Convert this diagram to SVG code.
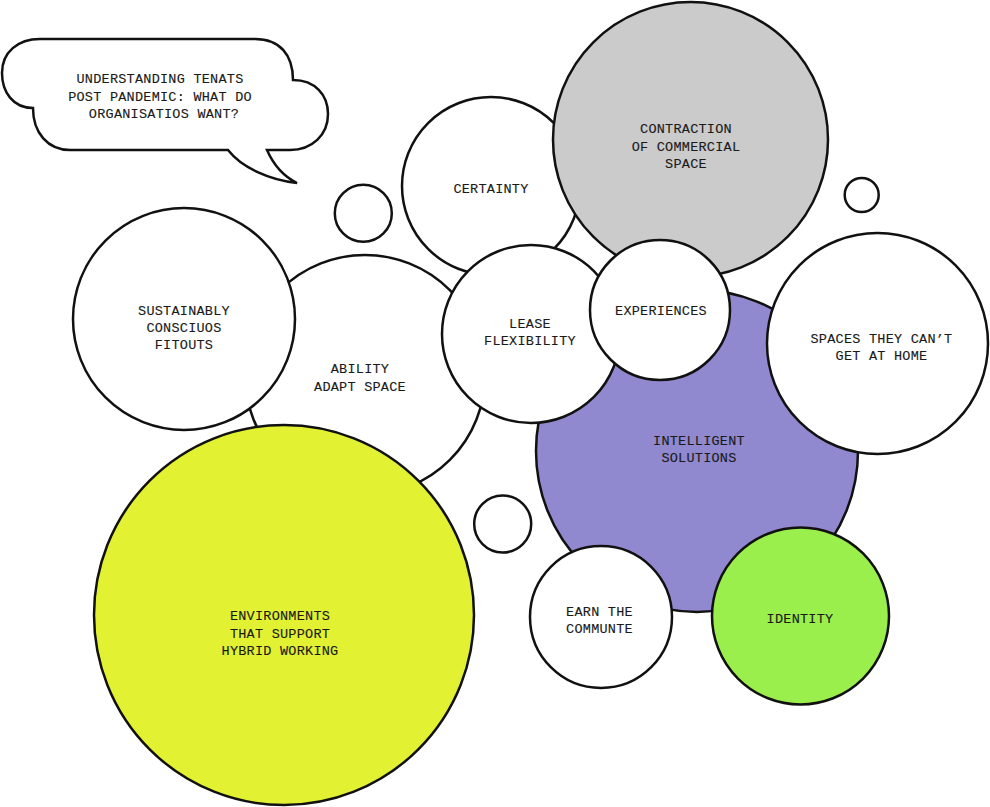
<svg xmlns="http://www.w3.org/2000/svg" width="990" height="807" viewBox="0 0 990 807">
<style>
.c{stroke:#111;stroke-width:2.5;}
.w{fill:#fff;}
.t{font-family:"Liberation Mono","DejaVu Sans Mono",monospace;font-size:13.5px;fill:#1a1a1a;stroke:#1a1a1a;stroke-width:0.12px;text-anchor:middle;letter-spacing:0.25px;}
</style>
<rect width="990" height="807" fill="#fff"/>
<g id="bubble">
<path class="c w" d="M40,39 L255,39 C280,39 293,55 293,80 C315,80 328,95 328,114 C328,135 312,150 290,150 L267,150 C274,166 285,177 297,183 C270,180 242,168 228,150 L70,150 C48,150 33,133 33,108 C13,108 2,92 2,73 C2,52 18,39 40,39 Z"/>
<text class="t"><tspan x="160" y="83">UNDERSTANDING TENATS</tspan><tspan x="160" y="100.5">POST PANDEMIC: WHAT DO</tspan><tspan x="164" y="118">ORGANISATIOS WANT?</tspan></text>
</g>
<g id="certainty">
<circle class="c w" cx="491" cy="186" r="89"/>
<text class="t" x="491" y="193">CERTAINTY</text>
</g>
<g id="contraction">
<circle class="c" fill="#cbcbcb" cx="690.5" cy="139.5" r="137.5"/>
<text class="t"><tspan x="686" y="133">CONTRACTION</tspan><tspan x="686" y="150.5">OF COMMERCIAL</tspan><tspan x="686" y="167.5">SPACE</tspan></text>
</g>
<g id="ability">
<circle class="c w" cx="365" cy="375" r="120"/>
<text class="t"><tspan x="360" y="373">ABILITY</tspan><tspan x="360" y="390.5">ADAPT SPACE</tspan></text>
</g>
<g id="sustainably">
<circle class="c w" cx="184" cy="319" r="111"/>
<text class="t"><tspan x="184" y="314.5">SUSTAINABLY</tspan><tspan x="184" y="332">CONSCIUOS</tspan><tspan x="184" y="349">FITOUTS</tspan></text>
</g>
<g id="environments">
<circle class="c" fill="#e2f232" cx="284" cy="615" r="190"/>
<text class="t"><tspan x="280" y="620">ENVIRONMENTS</tspan><tspan x="280" y="637.5">THAT SUPPORT</tspan><tspan x="280" y="655">HYBRID WORKING</tspan></text>
</g>
<g id="intelligent">
<circle class="c" fill="#9189cf" cx="697" cy="451" r="161"/>
<text class="t"><tspan x="699" y="444.5">INTELLIGENT</tspan><tspan x="699" y="462">SOLUTIONS</tspan></text>
</g>
<g id="lease">
<circle class="c w" cx="531" cy="334" r="89"/>
<text class="t"><tspan x="530" y="327.5">LEASE</tspan><tspan x="530" y="345">FLEXIBILITY</tspan></text>
</g>
<g id="experiences">
<circle class="c w" cx="660" cy="310" r="70"/>
<text class="t" x="661" y="314.5">EXPERIENCES</text>
</g>
<g id="spaces">
<circle class="c w" cx="877.5" cy="343.5" r="110.5"/>
<text class="t"><tspan x="881.5" y="342.5">SPACES THEY CAN’T</tspan><tspan x="881.5" y="360">GET AT HOME</tspan></text>
</g>
<g id="earn">
<circle class="c w" cx="601" cy="617" r="71"/>
<text class="t"><tspan x="599.5" y="616">EARN THE</tspan><tspan x="599.5" y="633">COMMUNTE</tspan></text>
</g>
<g id="identity">
<circle class="c" fill="#9bef4d" cx="800.5" cy="616" r="88.5"/>
<text class="t" x="800" y="623">IDENTITY</text>
</g>
<g id="dot1"><circle class="c w" cx="363.3" cy="213.3" r="28.5"/></g>
<g id="dot2"><circle class="c w" cx="861.7" cy="195" r="17"/></g>
<g id="dot3"><circle class="c w" cx="502.7" cy="524" r="28.5"/></g>
<g id="connectors"></g>
</svg>
